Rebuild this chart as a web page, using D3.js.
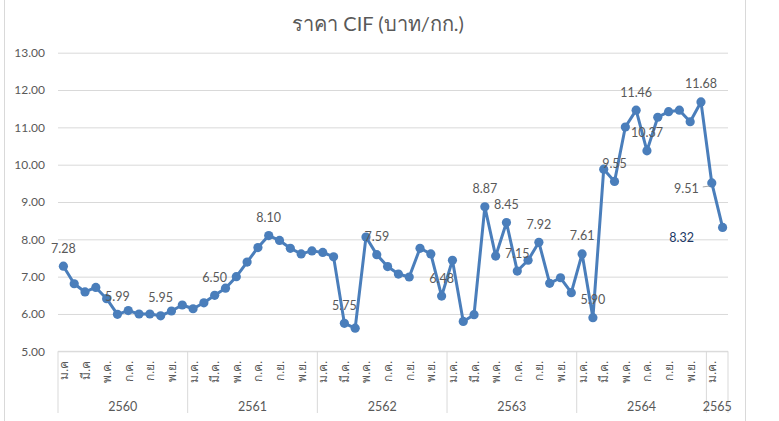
<!DOCTYPE html>
<html><head><meta charset="utf-8">
<script src="https://cdn.jsdelivr.net/npm/d3@7"></script>
<style>
html,body{margin:0;padding:0;background:#fff;}
svg{display:block;font-family:Lato,"Liberation Sans",sans-serif;}
</style></head>
<body><svg id="c" width="779" height="421"></svg>
<script>
const title = "ราคา CIF (บาท/กก.)";
const years = ["2560","2561","2562","2563","2564","2565"];
const monthsPerYear = [12,12,12,12,12,2];
const monthLabels = [
 "ม.ค","ก.พ.","มี.ค","เม.ย.","พ.ค.","มิ.ย.","ก.ค.","ส.ค.","ก.ย.","ต.ค.","พ.ย.","ธ.ค.",
 "ม.ค.","ก.พ.","มี.ค.","เม.ย.","พ.ค.","มิ.ย.","ก.ค.","ส.ค.","ก.ย.","ต.ค.","พ.ย.","ธ.ค.",
 "ม.ค.","ก.พ.","มี.ค.","เม.ย.","พ.ค.","มิ.ย.","ก.ค.","ส.ค.","ก.ย.","ต.ค.","พ.ย.","ธ.ค.",
 "ม.ค.","ก.พ.","มี.ค.","เม.ย.","พ.ค.","มิ.ย.","ก.ค.","ส.ค.","ก.ย.","ต.ค.","พ.ย.","ธ.ค.",
 "ม.ค.","ก.พ.","มี.ค.","เม.ย.","พ.ค.","มิ.ย.","ก.ค.","ส.ค.","ก.ย.","ต.ค.","พ.ย.","ธ.ค.",
 "ม.ค.","ก.พ."
];
const values = [
 7.28,6.81,6.59,6.71,6.41,5.99,6.09,6.00,6.00,5.95,6.08,6.24,
 6.14,6.30,6.50,6.69,7.00,7.39,7.78,8.10,7.97,7.76,7.61,7.69,
 7.65,7.53,5.75,5.62,8.06,7.59,7.27,7.07,6.99,7.76,7.61,6.48,
 7.44,5.80,5.98,8.87,7.55,8.45,7.15,7.44,7.92,6.82,6.97,6.57,
 7.61,5.90,9.88,9.55,11.01,11.46,10.37,11.27,11.42,11.46,11.15,11.68,
 9.51,8.32
];
const labeledIdx = [0,5,9,14,19,26,29,35,39,41,42,44,48,49,51,53,54,59,60,61];
const yTicks = [5,6,7,8,9,10,11,12,13];

const svg = d3.select("#c");
const L = 58, R = 728, T = 52.7, B = 351.3;
const gray = "#595959", grid = "#d9d9d9", lineCol = "#4a7ebb";

// chart border
svg.append("rect").attr("x",4.5).attr("y",-5).attr("width",741).attr("height",440)
  .attr("fill","none").attr("stroke",grid);

const idx = d3.range(values.length);
const x = d3.scaleBand().domain(idx).range([L,R]);
const y = d3.scaleLinear().domain([5,13]).range([B,T]);
const cx = i => x(i) + x.bandwidth()/2;

// title
svg.append("text").attr("x",378).attr("y",31).attr("text-anchor","middle")
  .attr("font-size",20).attr("fill",gray).text(title);

// gridlines + y labels
const yAxis = d3.axisLeft(y).tickValues(yTicks).tickFormat(d3.format(".2f")).tickSize(-(R-L)).tickPadding(13);
const gy = svg.append("g").attr("transform",`translate(${L},0)`).call(yAxis);
gy.select(".domain").remove();
gy.selectAll("line").attr("stroke",grid);
gy.selectAll("text").attr("fill",gray).attr("font-size",12).attr("font-family","Lato,'Liberation Sans',sans-serif");

// category axis
const gx = svg.append("g");
gx.append("line").attr("x1",L).attr("x2",R).attr("y1",B).attr("y2",B).attr("stroke",grid);
let start = 0;
const bounds = [0];
monthsPerYear.forEach(n => { start += n; bounds.push(start); });
bounds.forEach(b => {
  const xx = b < values.length ? x(b) : R;
  gx.append("line").attr("x1",xx).attr("x2",xx).attr("y1",B).attr("y2",413).attr("stroke",grid);
});
years.forEach((yr,k) => {
  const x0 = x(bounds[k]);
  const x1 = bounds[k+1] < values.length ? x(bounds[k+1]) : R;
  gx.append("text").attr("x",(x0+x1)/2).attr("y",411).attr("text-anchor","middle")
    .attr("font-size",12.5).attr("fill",gray).text(yr);
});
idx.filter(i => i % 2 === 0).forEach(i => {
  gx.append("text").attr("transform",`translate(${cx(i)+4.5},361) rotate(-90)`)
    .attr("text-anchor","end").attr("font-size",12).attr("fill",gray).text(monthLabels[i]);
});

// line
const line = d3.line().x((d,i)=>cx(i)).y(d=>y(d));
svg.append("path").datum(values).attr("d",line).attr("fill","none")
  .attr("stroke",lineCol).attr("stroke-width",3).attr("stroke-linejoin","round");
svg.selectAll("circle.pt").data(values).join("circle").attr("class","pt")
  .attr("cx",(d,i)=>cx(i)).attr("cy",d=>y(d)).attr("r",4.6).attr("fill",lineCol);

// data labels
const fmt = d3.format(".2f");
labeledIdx.forEach(i => {
  const px = cx(i), py = y(values[i]);
  const t = svg.append("text").attr("font-size",12.5).attr("fill",gray).text(fmt(values[i]));
  if (i === values.length - 2) {
    t.attr("x",px-13).attr("y",py+10).attr("text-anchor","end");
    svg.append("line").attr("x1",px-9).attr("x2",px-2).attr("y1",py+4).attr("y2",py+3)
      .attr("stroke","#a6a6a6").attr("stroke-width",1);
  } else if (i === values.length - 1) {
    t.attr("x",px-41).attr("y",py+15).attr("text-anchor","middle").attr("fill","#203864");
  } else {
    t.attr("x",px).attr("y",py-13.5).attr("text-anchor","middle");
  }
});
</script></body></html>
